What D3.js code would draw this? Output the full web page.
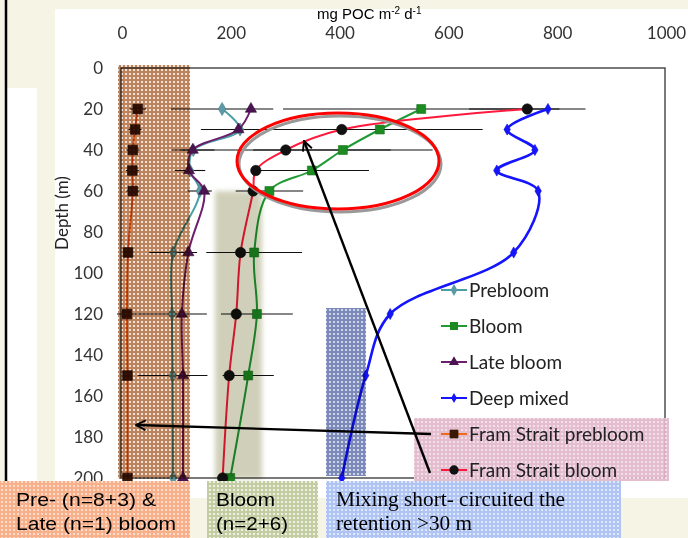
<!DOCTYPE html>
<html>
<head>
<meta charset="utf-8">
<script src="https://cdn.jsdelivr.net/npm/d3@7"></script>
<style>
  body { margin: 0; background: #fff; }
  svg { display: block; }
</style>
</head>
<body>
<div id="chart"></div>
<script>
// depth (m) of each sample and flux (mg POC m-2 d-1) per series
var depths = [20, 30, 40, 50, 60, 90, 120, 150, 200];
var prebloom = [184, 217, 131, 125, 143, 94, 92, 93, 94];
var bloom = [550, 474, 406, 349, 271, 243, 248, 232, 199];
var lateBloom = [237, 214, 130, 123, 151, 122, 110, 112, 112];
var deepMixed = [783, 708, 759, 689, 765, 720, 493, 448, 404];
var framPrebloom = [29, 24, 20, 19, 20, 11, 9, 10, 10];
var framBloom = [745, 404, 301, 246, 241, 218, 210, 197, 185];

// error bars (+/-)
var prebloomErr = [94, 0, 39, 28, 22, 44, 64, 64, 0];
var bloomErr = [254, 0, 165, 105, 62, 88, 66, 47, 0];
var framBloomErr = [107, 259, 193, 0, 0, 0, 0, 0, 0];
var framPrebloomErr = [15, 12, 12, 12, 12, 0, 18, 0, 0];

var xTicks = [0, 200, 400, 600, 800, 1000];
var yTicks = [0, 20, 40, 60, 80, 100, 120, 140, 160, 180, 200];
var legendNames = ["Prebloom", "Bloom", "Late bloom", "Deep mixed", "Fram Strait prebloom", "Fram Strait bloom"];

var width = 688, height = 538;
var svg = d3.select("#chart").append("svg")
    .attr("width", width)
    .attr("height", height);

var x = d3.scaleLinear().domain([0, 1000]).range([122, 666]);
var y = d3.scaleLinear().domain([0, 200]).range([68, 478]);

// ---------PATTERNS---------
var defs = svg.append("defs");
function dots(id, bg, dot, op) {
    var p = defs.append("pattern").attr("id", id)
        .attr("width", 4).attr("height", 4)
        .attr("patternUnits", "userSpaceOnUse");
    p.append("rect").attr("width", 4).attr("height", 4).attr("fill", bg).attr("fill-opacity", op);
    p.append("rect").attr("x", 1).attr("y", 1).attr("width", 2).attr("height", 2)
        .attr("fill", dot).attr("fill-opacity", op);
}
dots("brownDots", "#bc845e", "#f2e2d6", 1);
dots("blueDots", "#7c8aba", "#d0d4e8", 1);
dots("orangeDots", "#f8b08a", "#fddccb", 1);
dots("greenDots", "#c4cca4", "#eef0e0", 1);
dots("skyDots", "#b0c4f4", "#e0e8fc", 1);
dots("pinkDots", "#e2b6ca", "#f6e4ec", 0.9);

defs.append("filter").attr("id", "soft")
    .attr("x", "-20%").attr("y", "-5%").attr("width", "140%").attr("height", "110%")
    .append("feGaussianBlur").attr("stdDeviation", 2.5);

var arrow = defs.append("marker").attr("id", "arrow")
    .attr("viewBox", "0 0 10 10").attr("refX", 9).attr("refY", 5)
    .attr("markerWidth", 5).attr("markerHeight", 5)
    .attr("orient", "auto");
arrow.append("path").attr("d", "M1,1L9,5L1,9")
    .attr("fill", "none").attr("stroke", "#000").attr("stroke-width", 1.6);

// ---------BACKGROUND---------
svg.append("rect").attr("width", width).attr("height", height).attr("fill", "#f6f4e4");
svg.append("rect").attr("x", 55).attr("y", 9).attr("width", 633).attr("height", 489).attr("fill", "#fff");
svg.append("rect").attr("x", 7).attr("y", 88).attr("width", 30).attr("height", 410).attr("fill", "#fff");
svg.append("line").attr("x1", 6).attr("x2", 6).attr("y1", 0).attr("y2", height)
    .attr("stroke", "#000").attr("stroke-width", 2.5);

// ---------AXES---------
svg.append("g").attr("transform", "translate(0,68)")
    .call(d3.axisTop(x).tickValues(xTicks).tickFormat(d3.format("d")).tickSize(0).tickPadding(29))
    .call(function(g) { g.select(".domain").remove(); })
    .selectAll("text")
    .attr("font-family", "Lato, sans-serif").attr("font-size", 17).attr("fill", "#333");

svg.append("g").attr("transform", "translate(121,0)")
    .call(d3.axisLeft(y).tickValues(yTicks).tickSize(0).tickPadding(18))
    .call(function(g) { g.select(".domain").remove(); })
    .selectAll("text")
    .attr("font-family", "Lato, sans-serif").attr("font-size", 17).attr("fill", "#333");

var xt = svg.append("text").attr("x", 317).attr("y", 19)
    .attr("font-family", "Liberation Sans, Arial, sans-serif").attr("font-size", 15).attr("fill", "#000");
xt.append("tspan").text("mg POC m");
xt.append("tspan").attr("dy", -5).attr("font-size", 10).text("-2");
xt.append("tspan").attr("dy", 5).text(" d");
xt.append("tspan").attr("dy", -5).attr("font-size", 10).text("-1");

svg.append("text")
    .attr("transform", "translate(68,213) rotate(-90)")
    .attr("text-anchor", "middle")
    .attr("font-family", "Lato, sans-serif").attr("font-size", 17).attr("fill", "#222")
    .text("Depth (m)");

// plot frame
svg.append("rect").attr("x", 121).attr("y", 68).attr("width", 544).attr("height", 410)
    .attr("fill", "none").attr("stroke", "#333").attr("stroke-width", 1.3);

// ---------SERIES---------
var series = [
    {values: prebloom, err: prebloomErr, line: "#4a9ea4", mark: "#5c9aa6", shape: d3.symbolDiamond, size: 50, w: 2},
    {values: lateBloom, err: null, line: "#6c1f6c", mark: "#4a1450", shape: d3.symbolTriangle, size: 55, w: 2},
    {values: framPrebloom, err: framPrebloomErr, line: "#f06a1c", mark: "#3a1806", shape: d3.symbolSquare, size: 95, w: 2},
    {values: bloom, err: bloomErr, line: "#1f9a34", mark: "#1c8c22", shape: d3.symbolSquare, size: 80, w: 2},
    {values: framBloom, err: framBloomErr, line: "#ff1a3c", mark: "#111", shape: d3.symbolCircle, size: 85, w: 2},
    {values: deepMixed, err: null, line: "#1414ff", mark: "#1414ff", shape: d3.symbolDiamond, size: 36, w: 2.6}
];

// error bars first
series.forEach(function(s) {
    if (!s.err) return;
    svg.append("g").selectAll("line")
        .data(depths.map(function(d, i) { return {d: d, v: s.values[i], e: s.err[i]}; })
            .filter(function(p) { return p.e > 0; }))
        .enter().append("line")
        .attr("x1", function(p) { return x(p.v - p.e); })
        .attr("x2", function(p) { return x(p.v + p.e); })
        .attr("y1", function(p) { return y(p.d); })
        .attr("y2", function(p) { return y(p.d); })
        .attr("stroke", "#111").attr("stroke-width", 1.1);
});

var lineGen = d3.line()
    .x(function(p) { return x(p[0]); })
    .y(function(p) { return y(p[1]); })
    .curve(d3.curveCatmullRom.alpha(0.5));

series.forEach(function(s) {
    var pts = depths.map(function(d, i) { return [s.values[i], d]; });
    svg.append("path").datum(pts)
        .attr("d", lineGen)
        .attr("fill", "none")
        .attr("stroke", s.line)
        .attr("stroke-width", s.w);
    svg.append("g").selectAll("path")
        .data(pts)
        .enter().append("path")
        .attr("transform", function(p) { return "translate(" + x(p[0]) + "," + y(p[1]) + ")"; })
        .attr("d", d3.symbol().type(s.shape).size(s.size))
        .attr("fill", s.mark)
        .attr("stroke", d3.color(s.mark).darker(0.6))
        .attr("stroke-width", 0.6);
});

// ---------SHADED BANDS--------- (multiplied over the lines)
svg.append("rect").attr("x", 118).attr("y", 65).attr("width", 72).attr("height", 414)
    .attr("fill", "url(#brownDots)").style("mix-blend-mode", "multiply");
svg.append("rect").attr("x", 215).attr("y", 191).attr("width", 47).attr("height", 288)
    .attr("fill", "#d0d0ba").attr("filter", "url(#soft)").style("mix-blend-mode", "multiply");
svg.append("rect").attr("x", 326).attr("y", 308).attr("width", 40).attr("height", 168)
    .attr("fill", "url(#blueDots)").style("mix-blend-mode", "multiply");

// ---------LEGEND---------
svg.append("rect").attr("x", 414).attr("y", 418).attr("width", 255).attr("height", 63)
    .attr("fill", "url(#pinkDots)");

var legend = svg.append("g").selectAll("g")
    .data([series[0], series[3], series[1], series[5], series[2], series[4]])
    .enter().append("g")
    .attr("transform", function(d, i) { return "translate(454," + (290 + i * 36) + ")"; });
legend.append("line").attr("x1", -13).attr("x2", 13)
    .attr("stroke", function(d) { return d.line; }).attr("stroke-width", 2);
legend.append("path")
    .attr("d", function(d) { return d3.symbol().type(d.shape).size(d.size * 0.8)(); })
    .attr("fill", function(d) { return d.mark; });
legend.append("text").attr("x", 15).attr("dy", "0.35em")
    .attr("font-family", "Lato, sans-serif").attr("font-size", 19).attr("fill", "#222")
    .text(function(d, i) { return legendNames[i]; });

// ---------ANNOTATIONS---------
svg.append("ellipse").attr("cx", 340).attr("cy", 164).attr("rx", 101).attr("ry", 48)
    .attr("fill", "none").attr("stroke", "#999").attr("stroke-width", 3);
svg.append("ellipse").attr("cx", 338).attr("cy", 161).attr("rx", 101).attr("ry", 48)
    .attr("fill", "none").attr("stroke", "#ff0000").attr("stroke-width", 3);

svg.append("line").attr("x1", 430).attr("y1", 473).attr("x2", 304).attr("y2", 141)
    .attr("stroke", "#000").attr("stroke-width", 2.4).attr("marker-end", "url(#arrow)");
svg.append("line").attr("x1", 431).attr("y1", 434).attr("x2", 136).attr("y2", 425)
    .attr("stroke", "#000").attr("stroke-width", 2.4).attr("marker-end", "url(#arrow)");

// bottom boxes
var sans = "Liberation Sans, Arial, sans-serif", serif = "Liberation Serif, Times New Roman, serif";
var boxes = [
    {x: 0, w: 190, fill: "url(#orangeDots)", tx: 16, font: sans, size: 19, lines: ["Pre- (n=8+3) &", "Late (n=1) bloom"], len: [140, 160]},
    {x: 207, w: 111, fill: "url(#greenDots)", tx: 216, font: sans, size: 19, lines: ["Bloom", "(n=2+6)"], len: [59, 72]},
    {x: 326, w: 295, fill: "url(#skyDots)", tx: 336, font: serif, size: 20, lines: ["Mixing short- circuited the", "retention >30 m"], len: [229, 136]}
];
var box = svg.append("g").selectAll("g").data(boxes).enter().append("g");
box.append("rect")
    .attr("x", function(d) { return d.x; }).attr("y", 481)
    .attr("width", function(d) { return d.w; }).attr("height", 57)
    .attr("fill", function(d) { return d.fill; });
box.each(function(d) {
    var g = d3.select(this);
    d.lines.forEach(function(l, i) {
        g.append("text")
            .attr("x", d.tx).attr("y", 506 + i * 24)
            .attr("font-family", d.font).attr("font-size", d.size).attr("fill", "#000")
            .attr("textLength", d.len[i]).attr("lengthAdjust", "spacingAndGlyphs")
            .text(l);
    });
});
</script>
</body>
</html>
